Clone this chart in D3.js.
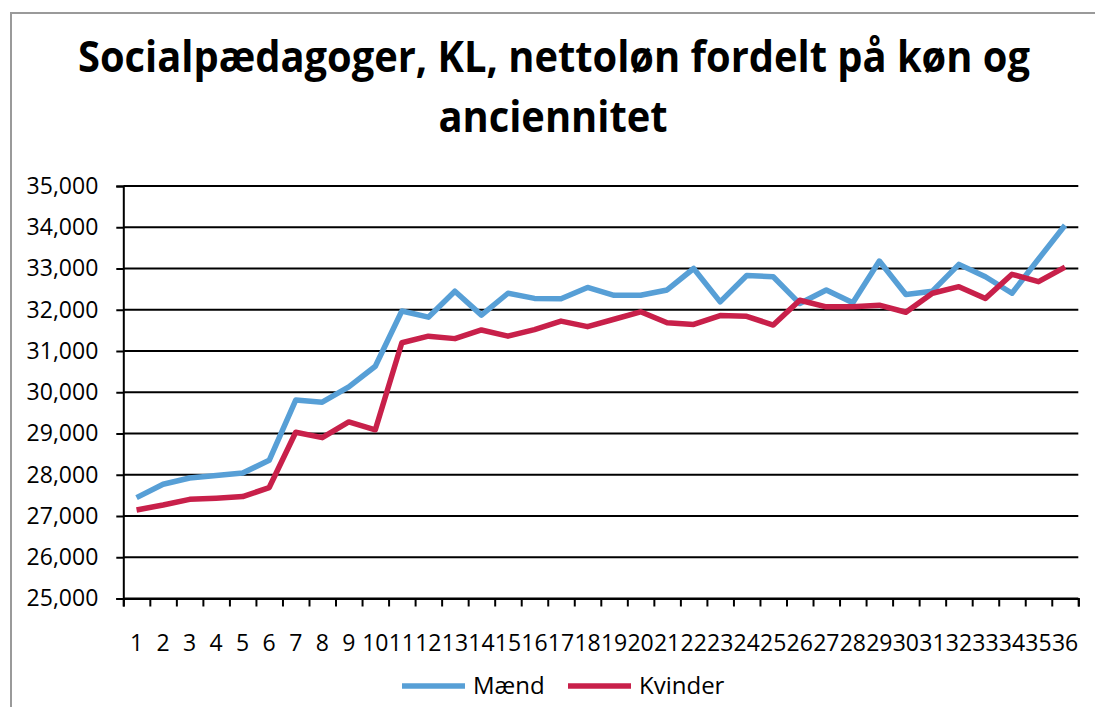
<!DOCTYPE html>
<html>
<head>
<meta charset="utf-8">
<script src="https://cdn.jsdelivr.net/npm/d3@7"></script>
<style>
  body { margin: 0; background: #fff; }
  svg { display: block; }
  text { font-family: "Open Sans", sans-serif; fill: #000; }
</style>
</head>
<body>
<svg width="1095" height="707"></svg>
<script>
// anciennitet (years) and net salary per gender
var categories = d3.range(1, 37).map(String);
var maend = [27445, 27770, 27920, 27980, 28040, 28350, 29810, 29760, 30130, 30630,
             31970, 31820, 32450, 31870, 32400, 32275, 32267, 32540, 32350, 32350,
             32480, 33000, 32190, 32830, 32800, 32150, 32480, 32170, 33180, 32370,
             32450, 33100, 32800, 32400, 33230, 34050];
var kvinder = [27145, 27267, 27404, 27430, 27470, 27690, 29030, 28900, 29280, 29090,
               31200, 31360, 31300, 31510, 31360, 31520, 31725, 31590, 31770, 31950,
               31685, 31645, 31860, 31840, 31630, 32230, 32070, 32070, 32110, 31940,
               32400, 32560, 32275, 32860, 32680, 33035];
var seriesNames = ['Mænd', 'Kvinder'];
var yTicks = d3.range(25000, 35001, 1000);

var colors = ['#579fd6', '#c8204a'];
var titleLines = ['Socialpædagoger, KL, nettoløn fordelt på køn og', 'anciennitet'];

var svg = d3.select('svg');
var plotLeft = 123.3, plotRight = 1078.3, plotTop = 186, plotBottom = 598.5;

// chart frame (only left + top edge visible in the picture)
svg.append('rect')
    .attr('x', 11).attr('y', 13)
    .attr('width', 1100).attr('height', 720)
    .style('fill', 'none')
    .style('stroke', '#9a9a9a')
    .style('stroke-width', 2);

// title, squeezed to the narrow width of the original font
var t1 = svg.append('text')
    .attr('x', 554).attr('y', 72)
    .attr('text-anchor', 'middle')
    .style('font-size', '43px').style('font-weight', 700)
    .text(titleLines[0]);
var natural = t1.node().getComputedTextLength();
var squeeze = 952 / natural;
t1.attr('textLength', 952).attr('lengthAdjust', 'spacingAndGlyphs');
var t2 = svg.append('text')
    .attr('x', 553).attr('y', 132)
    .attr('text-anchor', 'middle')
    .style('font-size', '43px').style('font-weight', 700)
    .text(titleLines[1]);
t2.attr('textLength', t2.node().getComputedTextLength() * squeeze)
  .attr('lengthAdjust', 'spacingAndGlyphs');

var x = d3.scaleBand().domain(categories).range([plotLeft, plotRight]);
var xEdges = d3.scaleLinear().domain([0, categories.length]).range([plotLeft, plotRight]);
var y = d3.scaleLinear().domain([25000, 35000]).range([plotBottom, plotTop]);

// gridlines
svg.append('g').attr('class', 'grid')
    .selectAll('line')
    .data(yTicks)
    .join('line')
    .attr('x1', plotLeft).attr('x2', plotRight)
    .attr('y1', function(d) { return y(d); })
    .attr('y2', function(d) { return y(d); })
    .style('stroke', '#000')
    .style('stroke-width', 2);

// y axis
var yAxis = svg.append('g')
    .attr('transform', 'translate(' + plotLeft + ',0)')
    .call(d3.axisLeft(y).tickValues(yTicks).tickSize(7).tickPadding(18)
        .tickFormat(d3.format(',')));
yAxis.selectAll('text').style('font-size', '23px').style('font-family', '"Open Sans", sans-serif');

// x axis: tick marks between categories, labels at centres
var xTickAxis = svg.append('g')
    .attr('transform', 'translate(0,' + plotBottom + ')')
    .call(d3.axisBottom(xEdges).tickValues(d3.range(0, categories.length + 1))
        .tickSize(8).tickFormat(''));
var xLabelAxis = svg.append('g')
    .attr('transform', 'translate(0,' + plotBottom + ')')
    .call(d3.axisBottom(x).tickSize(0).tickPadding(36));
xLabelAxis.select('.domain').remove();
xLabelAxis.selectAll('text').style('font-size', '23px').style('font-family', '"Open Sans", sans-serif');

[yAxis, xTickAxis].forEach(function(g) {
    g.selectAll('line, path').style('stroke', '#000').style('stroke-width', 2);
});

// lines
var line = d3.line()
    .x(function(d, i) { return x(categories[i]) + x.bandwidth() / 2; })
    .y(function(d) { return y(d); });

svg.append('g').selectAll('path')
    .data([maend, kvinder])
    .join('path')
    .attr('d', line)
    .style('fill', 'none')
    .style('stroke', function(d, i) { return colors[i]; })
    .style('stroke-width', 5.5)
    .style('stroke-linejoin', 'round');

// legend
var legendX = [402, 568];
var legend = svg.append('g').selectAll('g')
    .data(seriesNames)
    .join('g')
    .attr('transform', function(d, i) { return 'translate(' + legendX[i] + ',686)'; });
legend.append('line')
    .attr('x1', 0).attr('x2', 63)
    .style('stroke', function(d, i) { return colors[i]; })
    .style('stroke-width', 5.5);
legend.append('text')
    .attr('x', 71).attr('dy', '0.35em')
    .style('font-size', '24px')
    .text(function(d) { return d; });
</script>
</body>
</html>
